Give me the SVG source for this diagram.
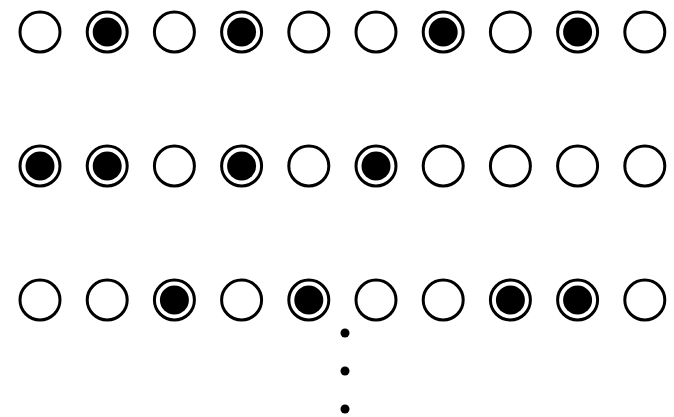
<svg xmlns="http://www.w3.org/2000/svg" width="674" height="417" viewBox="0 0 674 417">
<defs>
<style>
.o{fill:#fff;stroke:#000;stroke-width:3}
.i{fill:#000}
.d{fill:#000}
</style>
<g id="empty"><circle class="o" r="20"/></g>
<g id="full"><circle class="o" r="20"/><circle class="i" r="14.5"/></g>
</defs>
<rect width="674" height="417" fill="#fff"/>
<g id="row1" transform="translate(0,32)">
<use href="#empty" x="40"/>
<use href="#full" x="107.2"/>
<use href="#empty" x="174.4"/>
<use href="#full" x="241.6"/>
<use href="#empty" x="308.8"/>
<use href="#empty" x="376"/>
<use href="#full" x="443.2"/>
<use href="#empty" x="510.4"/>
<use href="#full" x="577.6"/>
<use href="#empty" x="644.8"/>
</g>
<g id="row2" transform="translate(0,166)">
<use href="#full" x="40"/>
<use href="#full" x="107.2"/>
<use href="#empty" x="174.4"/>
<use href="#full" x="241.6"/>
<use href="#empty" x="308.8"/>
<use href="#full" x="376"/>
<use href="#empty" x="443.2"/>
<use href="#empty" x="510.4"/>
<use href="#empty" x="577.6"/>
<use href="#empty" x="644.8"/>
</g>
<g id="row3" transform="translate(0,300)">
<use href="#empty" x="40"/>
<use href="#empty" x="107.2"/>
<use href="#full" x="174.4"/>
<use href="#empty" x="241.6"/>
<use href="#full" x="308.8"/>
<use href="#empty" x="376"/>
<use href="#empty" x="443.2"/>
<use href="#full" x="510.4"/>
<use href="#full" x="577.6"/>
<use href="#empty" x="644.8"/>
</g>
<g id="dots">
<circle class="d" cx="345" cy="333" r="4.5"/>
<circle class="d" cx="345" cy="371" r="4.5"/>
<circle class="d" cx="345" cy="409" r="4.5"/>
</g>
</svg>
